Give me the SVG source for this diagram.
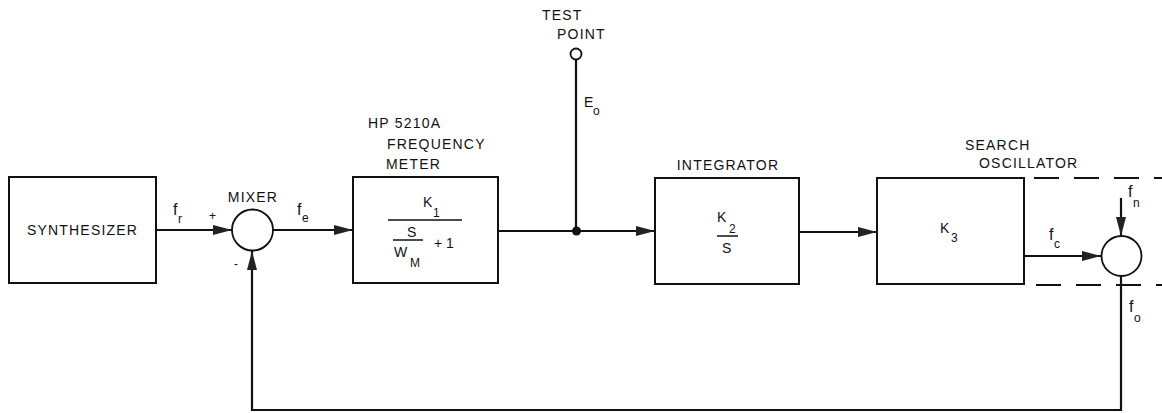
<svg xmlns="http://www.w3.org/2000/svg" width="1162" height="413" viewBox="0 0 1162 413">
<style>
.box{fill:none;stroke:#111;stroke-width:2}
.ln{fill:none;stroke:#111;stroke-width:2.2}
.dash{fill:none;stroke:#111;stroke-width:2;stroke-dasharray:25 15}
.circ{fill:#fff;stroke:#111;stroke-width:1.8}
text{font-family:"Liberation Sans",Arial,sans-serif;font-size:14px;fill:#111;letter-spacing:1.2px}
.sym{letter-spacing:0}
.f{font-size:16px;letter-spacing:0}
.sub{font-size:12px;letter-spacing:0}
</style>
<defs>
<marker id="arr" markerUnits="userSpaceOnUse" markerWidth="20" markerHeight="12" refX="19" refY="6" orient="auto">
<path d="M0,1 L19,6 L0,11 Z" fill="#222"/>
</marker>
</defs>
<rect width="1162" height="413" fill="#fff"/>

<g id="connectors">
<line class="ln" x1="156" y1="230" x2="232" y2="230" marker-end="url(#arr)"/>
<line class="ln" x1="273" y1="230" x2="353" y2="230" marker-end="url(#arr)"/>
<line class="ln" x1="498" y1="231" x2="655" y2="231" marker-end="url(#arr)"/>
<line class="ln" x1="799" y1="232" x2="877" y2="232" marker-end="url(#arr)"/>
<line class="ln" x1="1024" y1="256" x2="1101" y2="256" marker-end="url(#arr)"/>
<line class="ln" x1="1121" y1="198" x2="1121" y2="236" marker-end="url(#arr)"/>
<polyline class="ln" points="1121,276 1121,410 252,410 252,251" marker-end="url(#arr)"/>
<line class="ln" x1="576" y1="60" x2="576" y2="231"/>
<circle cx="576.5" cy="231" r="4.5" fill="#111"/>
<line class="dash" x1="1034" y1="178" x2="1162" y2="178"/>
<line class="dash" x1="1036" y1="285" x2="1162" y2="285"/>
</g>

<g id="synthesizer">
<rect class="box" x="9" y="177" width="147" height="106"/>
<text x="82.5" y="235" text-anchor="middle">SYNTHESIZER</text>
<text class="f" x="173" y="215">f</text>
<text class="sub" x="178" y="223">r</text>
</g>

<g id="mixer">
<circle class="circ" cx="252.5" cy="230" r="20.5"/>
<text x="253" y="202" text-anchor="middle">MIXER</text>
<text class="sym" x="209" y="220" style="font-size:12px">+</text>
<text class="sym" x="234" y="268" style="font-size:12px">-</text>
<text class="f" x="297" y="215">f</text>
<text class="sub" x="302" y="222">e</text>
</g>

<g id="frequency-meter">
<rect class="box" x="353" y="177" width="145" height="106"/>
<text x="368" y="128">HP 5210A</text>
<text x="387" y="149">FREQUENCY</text>
<text x="386" y="169">METER</text>
<text class="sym" x="423" y="207">K</text>
<text class="sub" x="433" y="217">1</text>
<line x1="388" y1="220" x2="462" y2="220" stroke="#111" stroke-width="1.5"/>
<text class="sym" x="407" y="237">S</text>
<line x1="393" y1="240" x2="423" y2="240" stroke="#111" stroke-width="1.5"/>
<text class="sym" x="394" y="257">W</text>
<text class="sub" x="410" y="267">M</text>
<text class="sym" x="434" y="248">+ 1</text>
</g>

<g id="test-point">
<circle class="circ" cx="576" cy="54" r="5.5"/>
<text x="542" y="20">TEST</text>
<text x="557" y="39">POINT</text>
<text class="sym" x="584" y="107">E</text>
<text class="sub" x="593" y="115">o</text>
</g>

<g id="integrator">
<rect class="box" x="655" y="178" width="144" height="106"/>
<text x="728" y="170" text-anchor="middle">INTEGRATOR</text>
<text class="sym" x="717" y="222">K</text>
<text class="sub" x="729" y="233">2</text>
<line x1="717" y1="236" x2="738" y2="236" stroke="#111" stroke-width="1.5"/>
<text class="sym" x="722" y="253">S</text>
</g>

<g id="search-oscillator">
<rect class="box" x="877" y="178" width="147" height="106"/>
<text x="965" y="150">SEARCH</text>
<text x="979" y="168">OSCILLATOR</text>
<text class="sym" x="940" y="233">K</text>
<text class="sub" x="951" y="242">3</text>
<text class="f" x="1049" y="240">f</text>
<text class="sub" x="1054" y="248">c</text>
</g>

<g id="summer">
<circle class="circ" cx="1121.5" cy="256" r="20"/>
<text class="f" x="1128" y="197">f</text>
<text class="sub" x="1133" y="207">n</text>
<text class="f" x="1129" y="312">f</text>
<text class="sub" x="1134" y="322">o</text>
</g>
</svg>
